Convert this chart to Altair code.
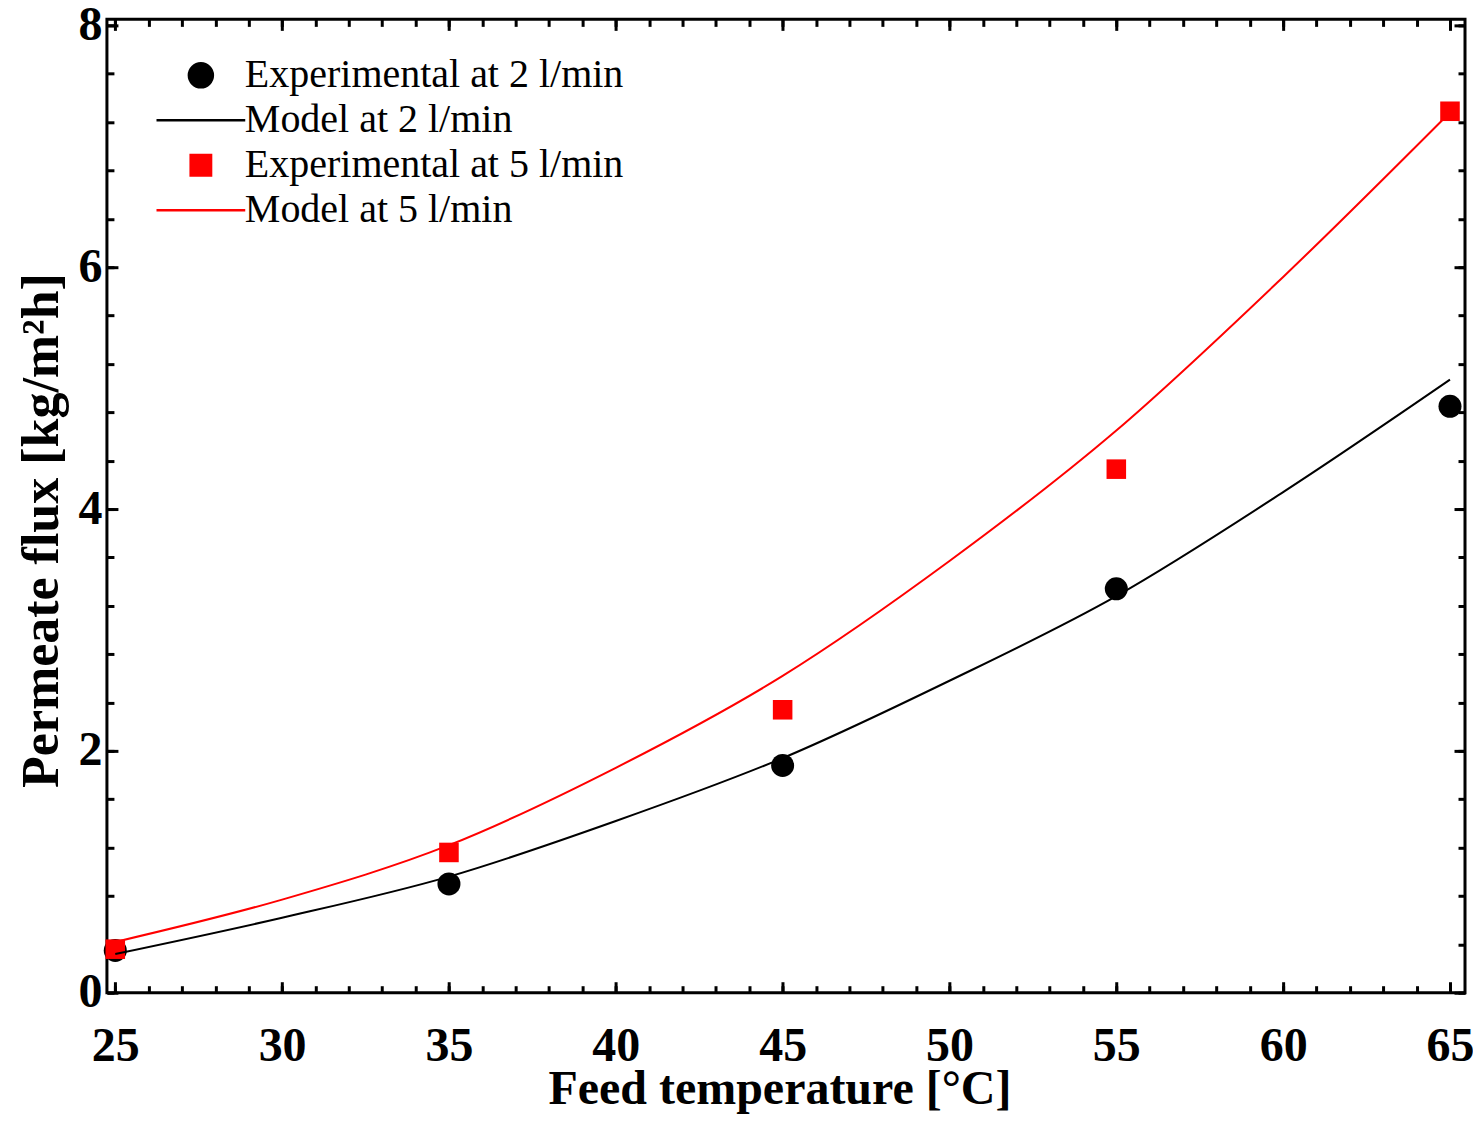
import altair as alt
import pandas as pd

# ---- data ----
temp_exp = [25, 35, 45, 55, 65]
flux_exp_2 = [0.35, 0.90, 1.88, 3.34, 4.85]
flux_exp_5 = [0.36, 1.16, 2.34, 4.33, 7.29]

temp_model = [25, 30, 35, 40, 45, 50, 55, 60, 65]
flux_model_2 = [0.32, 0.62, 0.96, 1.42, 1.94, 2.58, 3.28, 4.14, 5.07]
flux_model_5 = [0.42, 0.77, 1.22, 1.86, 2.62, 3.57, 4.65, 5.92, 7.28]

series_names = ["Experimental at 2 l/min", "Model at 2 l/min",
                "Experimental at 5 l/min", "Model at 5 l/min"]
series_colors = ["#000000", "#000000", "#ff0000", "#ff0000"]
series_shapes = ["circle", "M-3.7,0H3.7", "M-0.85,-0.85H0.85V0.85H-0.85Z", "M-3.7,0H3.7"]

x_major_ticks = [25, 30, 35, 40, 45, 50, 55, 60, 65]
x_minor_ticks = list(range(25, 66))
y_major_ticks = [0, 2, 4, 6, 8]
y_minor_ticks = [0, 0.4, 0.8, 1.2, 1.6, 2, 2.4, 2.8, 3.2, 3.6, 4, 4.4, 4.8,
                 5.2, 5.6, 6, 6.4, 6.8, 7.2, 7.6, 8]

x_title = "Feed temperature [°C]"
y_title = "Permeate flux [kg/m²h]"

# ---- tables ----
df_exp = pd.DataFrame({
    "T": temp_exp + temp_exp,
    "F": flux_exp_2 + flux_exp_5,
    "series": [series_names[0]] * len(temp_exp) + [series_names[2]] * len(temp_exp),
})
df_model = pd.DataFrame({
    "T": temp_model + temp_model,
    "F": flux_model_2 + flux_model_5,
    "series": [series_names[1]] * len(temp_model) + [series_names[3]] * len(temp_model),
})

FONT = "Liberation Serif"
W, H = 1359, 974
x_scale = alt.Scale(domain=[24.75, 65.45], nice=False, zero=False)
y_scale = alt.Scale(domain=[0, 8.05], nice=False, zero=False)

color_scale = alt.Scale(domain=series_names, range=series_colors)
shape_scale = alt.Scale(domain=series_names, range=series_shapes)

common = dict(grid=False, domain=False, tickColor="black", tickWidth=3)
MAJ, MIN = 11, 7

x_axis_bottom_major = alt.Axis(
    orient="bottom", values=x_major_ticks, tickSize=MAJ, offset=-MAJ,
    labelFont=FONT, labelFontSize=48, labelFontWeight="bold", labelColor="black",
    labelPadding=30, labelFlush=False, labelOverlap=False, labelBound=False,
    title=x_title, titleFont=FONT, titleFontSize=48, titleFontWeight="bold",
    titleColor="black", titleAlign="center", titleBaseline="alphabetic",
    titleX=673, titleY=122, format="d", **common)
y_axis_left_major = alt.Axis(
    orient="left", values=y_major_ticks, tickSize=MAJ, offset=-MAJ,
    labelFont=FONT, labelFontSize=48, labelFontWeight="bold", labelColor="black",
    labelPadding=5, labelFlush=False, labelOverlap=False, labelBound=False,
    title=y_title, titleFont=FONT, titleFontSize=52, titleFontWeight="bold",
    titleColor="black", titleAngle=270, titleAlign="center", titleBaseline="alphabetic",
    titleX=-60, titleY=511, format="d", **common)
x_axis_bottom_minor = alt.Axis(orient="bottom", values=x_minor_ticks, tickSize=MIN,
                               offset=-MIN, labels=False, title=None, **common)
y_axis_left_minor = alt.Axis(orient="left", values=y_minor_ticks, tickSize=MIN,
                             offset=-MIN, labels=False, title=None, **common)
x_axis_top_major = alt.Axis(orient="top", values=x_major_ticks, tickSize=MAJ,
                            offset=-MAJ, labels=False, title=None, **common)
y_axis_right_major = alt.Axis(orient="right", values=y_major_ticks, tickSize=MAJ,
                              offset=-MAJ, labels=False, title=None, **common)
x_axis_top_minor = alt.Axis(orient="top", values=x_minor_ticks, tickSize=MIN,
                            offset=-MIN, labels=False, title=None, **common)
y_axis_right_minor = alt.Axis(orient="right", values=y_minor_ticks, tickSize=MIN,
                              offset=-MIN, labels=False, title=None, **common)

legend = alt.Legend(
    title=None, orient="none", legendX=74, legendY=36, padding=0,
    labelFont=FONT, labelFontSize=40, labelColor="black", labelLimit=0,
    labelOffset=24, symbolSize=576, symbolStrokeWidth=2.5, rowPadding=5,
    symbolOpacity=1,
)

lines = alt.Chart(df_model).mark_line(strokeWidth=2, interpolate="monotone").encode(
    x=alt.X("T:Q", scale=x_scale, axis=x_axis_bottom_major),
    y=alt.Y("F:Q", scale=y_scale, axis=y_axis_left_major),
    color=alt.Color("series:N", scale=color_scale, legend=legend),
)

ticks_top = alt.Chart(df_model).mark_point(opacity=0).encode(
    x=alt.X("T:Q", scale=x_scale, axis=x_axis_top_major),
    y=alt.Y("F:Q", scale=y_scale, axis=y_axis_right_major),
)
ticks_minor2 = alt.Chart(df_model).mark_point(opacity=0).encode(
    x=alt.X("T:Q", scale=x_scale, axis=x_axis_top_minor),
    y=alt.Y("F:Q", scale=y_scale, axis=y_axis_right_minor),
)

points = alt.Chart(df_exp).mark_point(filled=True, opacity=1, size=530, strokeWidth=0).encode(
    x=alt.X("T:Q", scale=x_scale, axis=x_axis_bottom_minor),
    y=alt.Y("F:Q", scale=y_scale, axis=y_axis_left_minor),
    color=alt.Color("series:N", scale=color_scale, legend=legend),
    stroke=alt.Stroke("series:N", scale=color_scale, legend=legend),
    shape=alt.Shape("series:N", scale=shape_scale, legend=legend),
)

chart = alt.layer(points, lines, ticks_top, ticks_minor2).resolve_axis(
    x="independent", y="independent"
).properties(
    width=W, height=H,
    padding={"left": 99, "top": 11, "right": 8, "bottom": 121},
    autosize=alt.AutoSizeParams(type="none"),
    background="white",
).configure_view(stroke="black", strokeWidth=3)

chart.save("out.html", embed_options={"renderer": "svg", "actions": False})
